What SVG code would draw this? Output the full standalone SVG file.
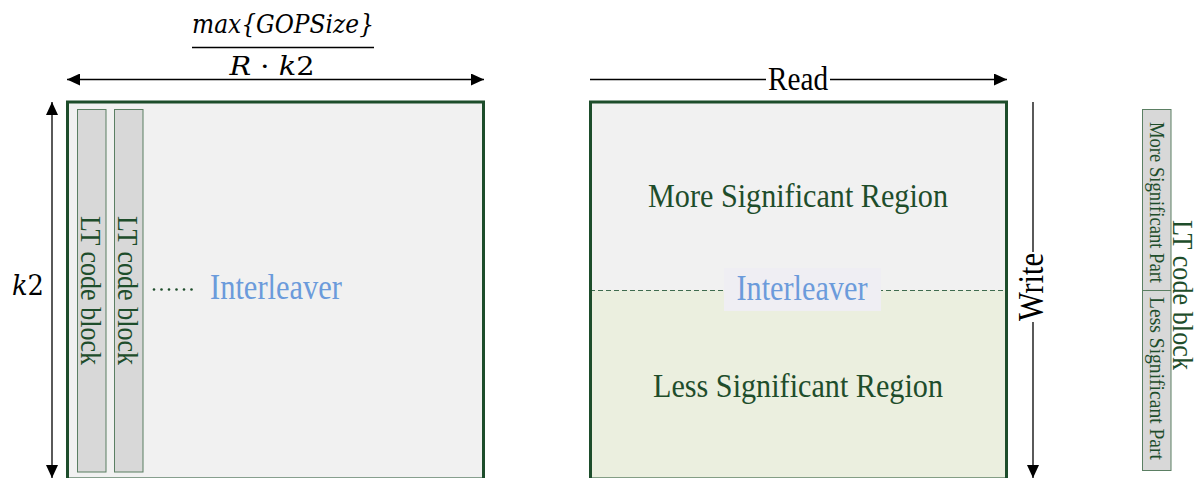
<svg xmlns="http://www.w3.org/2000/svg" width="1202" height="478" viewBox="0 0 1202 478">
  <defs>
    <marker id="tip" markerUnits="userSpaceOnUse" markerWidth="13" markerHeight="12" viewBox="0 0 13 12" refX="13" refY="6" orient="auto-start-reverse">
      <path d="M0,0 L13,6 L0,12 z" fill="#000"/>
    </marker>
    <style>
      .frame { fill: #f1f1f1; stroke: #1d4d2b; stroke-width: 3; }
      .strip { fill: #d8d8d8; stroke: #5b7f63; stroke-width: 1; }
      .serif { font-family: "Liberation Serif", "Times New Roman", serif; }
      .math { font-family: "DejaVu Serif", "Liberation Serif", serif; font-style: italic; }
      .green { fill: #1e4d2b; }
      .blue { fill: #6b9bdb; }
      .axis { stroke: #000; stroke-width: 1.3; fill: none; }
    </style>
  </defs>

  <!-- left: interleaver of LT code blocks -->
  <g id="interleaver-blocks">
    <rect class="frame" x="67.5" y="102" width="416" height="377"/>
    <rect class="strip" x="77.5" y="109.5" width="28.5" height="362.5"/>
    <rect class="strip" x="114.5" y="109.5" width="28.5" height="362.5"/>
    <text class="serif green" font-size="30" text-anchor="middle" textLength="149" lengthAdjust="spacingAndGlyphs" transform="translate(81,290.5) rotate(90)">LT code block</text>
    <text class="serif green" font-size="30" text-anchor="middle" textLength="149" lengthAdjust="spacingAndGlyphs" transform="translate(118,290.5) rotate(90)">LT code block</text>
    <g class="green">
      <circle cx="154" cy="289.5" r="1.3"/>
      <circle cx="161.5" cy="289.5" r="1.3"/>
      <circle cx="169" cy="289.5" r="1.3"/>
      <circle cx="176.5" cy="289.5" r="1.3"/>
      <circle cx="184" cy="289.5" r="1.3"/>
      <circle cx="191.5" cy="289.5" r="1.3"/>
    </g>
    <text class="serif blue" x="210" y="299" font-size="35" textLength="132" lengthAdjust="spacingAndGlyphs">Interleaver</text>
  </g>

  <!-- right: interleaver split into two regions -->
  <g id="interleaver-regions">
    <rect x="590" y="102" width="416" height="188" fill="#f1f1f1"/>
    <rect x="590" y="290" width="416" height="189" fill="#ebefdf"/>
    <line x1="590" y1="290.5" x2="1006" y2="290.5" stroke="#3f6b4f" stroke-width="1" stroke-dasharray="5,3"/>
    <rect x="590.5" y="102" width="416" height="377" fill="none" stroke="#1d4d2b" stroke-width="3"/>
    <text class="serif green" x="798" y="207" font-size="33" text-anchor="middle" textLength="300" lengthAdjust="spacingAndGlyphs">More Significant Region</text>
    <text class="serif green" x="798" y="397" font-size="33" text-anchor="middle" textLength="290" lengthAdjust="spacingAndGlyphs">Less Significant Region</text>
    <rect x="724" y="268" width="157" height="43" fill="#efeef3"/>
    <text class="serif blue" x="802" y="300" font-size="35" text-anchor="middle" textLength="131" lengthAdjust="spacingAndGlyphs">Interleaver</text>
  </g>

  <!-- legend: one LT code block -->
  <g id="lt-block-legend">
    <rect class="strip" x="1142.5" y="109.5" width="28.5" height="361"/>
    <line x1="1142.5" y1="290.5" x2="1171" y2="290.5" stroke="#5b7f63" stroke-width="1"/>
    <text class="serif green" font-size="20" text-anchor="middle" textLength="161" lengthAdjust="spacingAndGlyphs" transform="translate(1149.5,202.5) rotate(90)">More Significant Part</text>
    <text class="serif green" font-size="20" text-anchor="middle" textLength="163" lengthAdjust="spacingAndGlyphs" transform="translate(1149.5,378.5) rotate(90)">Less Significant Part</text>
    <text class="serif green" font-size="30" text-anchor="middle" textLength="150" lengthAdjust="spacingAndGlyphs" transform="translate(1173,295) rotate(90)">LT code block</text>
  </g>

  <!-- dimension and direction arrows -->
  <g id="connectors">
    <line class="axis" x1="67" y1="79.5" x2="484" y2="79.5" marker-start="url(#tip)" marker-end="url(#tip)"/>
    <line class="axis" x1="52" y1="102" x2="52" y2="478" marker-start="url(#tip)" marker-end="url(#tip)"/>
    <line class="axis" x1="590" y1="79.5" x2="766" y2="79.5"/>
    <line class="axis" x1="830" y1="79.5" x2="1007" y2="79.5" marker-end="url(#tip)"/>
    <line class="axis" x1="1033" y1="102" x2="1033" y2="252"/>
    <line class="axis" x1="1033" y1="322" x2="1033" y2="478" marker-end="url(#tip)"/>
  </g>

  <!-- labels -->
  <g id="labels">
    <text class="math" x="283" y="33" font-size="26" text-anchor="middle" textLength="182" lengthAdjust="spacingAndGlyphs">max{GOPSize}</text>
    <line x1="192" y1="47.5" x2="374" y2="47.5" stroke="#000" stroke-width="1.6"/>
    <text class="math" x="272" y="75" font-size="26" text-anchor="middle" textLength="85" lengthAdjust="spacingAndGlyphs">R <tspan font-style="normal">·</tspan> k<tspan font-style="normal">2</tspan></text>
    <text class="math" x="12" y="295" font-size="28" textLength="32" lengthAdjust="spacingAndGlyphs">k<tspan font-style="normal">2</tspan></text>
    <text class="serif" x="798" y="90" font-size="33" text-anchor="middle" textLength="60" lengthAdjust="spacingAndGlyphs">Read</text>
    <text class="serif" font-size="35" text-anchor="middle" textLength="68" lengthAdjust="spacingAndGlyphs" transform="translate(1043,287) rotate(-90)">Write</text>
  </g>
</svg>
